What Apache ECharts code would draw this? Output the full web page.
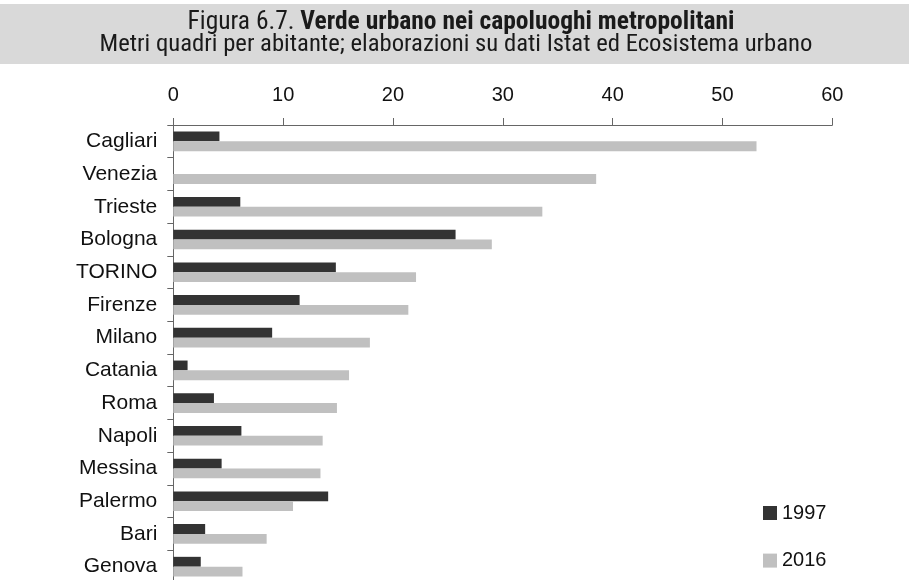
<!DOCTYPE html>
<html>
<head>
<meta charset="utf-8">
<script src="https://cdn.jsdelivr.net/npm/echarts@6/dist/echarts.min.js"></script>
<style>html,body{margin:0;padding:0;background:#fff}#c{width:909px;height:580px}</style>
</head>
<body>
<div id="c"></div>
<script>
const categories = ["Cagliari","Venezia","Trieste","Bologna","TORINO","Firenze","Milano","Catania","Roma","Napoli","Messina","Palermo","Bari","Genova"];
const v1997 = [4.2, null, 6.1, 25.7, 14.8, 11.5, 9.0, 1.3, 3.7, 6.2, 4.4, 14.1, 2.9, 2.5];
const v2016 = [53.1, 38.5, 33.6, 29.0, 22.1, 21.4, 17.9, 16.0, 14.9, 13.6, 13.4, 10.9, 8.5, 6.3];
const seriesNames = ["1997", "2016"];
const titleNormal = "Figura 6.7. ";
const titleBold = "Verde urbano nei capoluoghi metropolitani";
const subtitle = "Metri quadri per abitante; elaborazioni su dati Istat ed Ecosistema urbano";

const narrow = 'Roboto Condensed';
const sans = 'Liberation Sans';

const chart = echarts.init(document.getElementById('c'), null, {renderer: 'canvas'});
chart.setOption({
  animation: false,
  backgroundColor: '#ffffff',
  graphic: [
    {type: 'rect', shape: {x: 0, y: 4, width: 909, height: 60}, style: {fill: '#d9d9d9'}, z: -10},
    {type: 'text', x: 461, y: 22.5, style: {
      text: '{a|' + titleNormal + '}{b|' + titleBold + '}',
      align: 'center', verticalAlign: 'middle',
      rich: {
        a: {fontFamily: narrow, fontSize: 25.5, fill: '#1a1a1a'},
        b: {fontFamily: narrow, fontSize: 25.5, fontWeight: 'bold', fill: '#1a1a1a'}
      }
    }},
    {type: 'text', x: 456, y: 44.5, style: {
      text: subtitle, align: 'center', verticalAlign: 'middle',
      fontFamily: narrow, fontSize: 24.7, fill: '#1a1a1a'
    }}
  ],
  legend: {
    orient: 'vertical', left: 763, top: 503, itemGap: 27.6, padding: 0,
    itemWidth: 14, itemHeight: 14, icon: 'rect',
    textStyle: {fontFamily: sans, fontSize: 20, color: '#111'},
    data: seriesNames
  },
  grid: {left: 173.3, right: 76.7, top: 125, height: 458, outerBoundsMode: 'none', containLabel: false},
  xAxis: {
    type: 'value', position: 'top', min: 0, max: 60, interval: 10,
    axisLine: {show: true, lineStyle: {color: '#666', width: 1}},
    axisTick: {show: true, length: 7, lineStyle: {color: '#666'}},
    splitLine: {show: false},
    axisLabel: {fontFamily: sans, fontSize: 20, color: '#111', margin: 20}
  },
  yAxis: {
    type: 'category', inverse: true, data: categories,
    axisLine: {show: true, lineStyle: {color: '#666', width: 1}},
    axisTick: {show: true, length: 6, lineStyle: {color: '#666'}},
    axisLabel: {fontFamily: sans, fontSize: 21, color: '#111', margin: 16}
  },
  series: [
    {name: seriesNames[0], type: 'bar', data: v1997, barGap: '0%', barCategoryGap: '40%', itemStyle: {color: '#333333'}},
    {name: seriesNames[1], type: 'bar', data: v2016, barGap: '0%', barCategoryGap: '40%', itemStyle: {color: '#c0c0c0'}}
  ]
});
</script>
</body>
</html>
